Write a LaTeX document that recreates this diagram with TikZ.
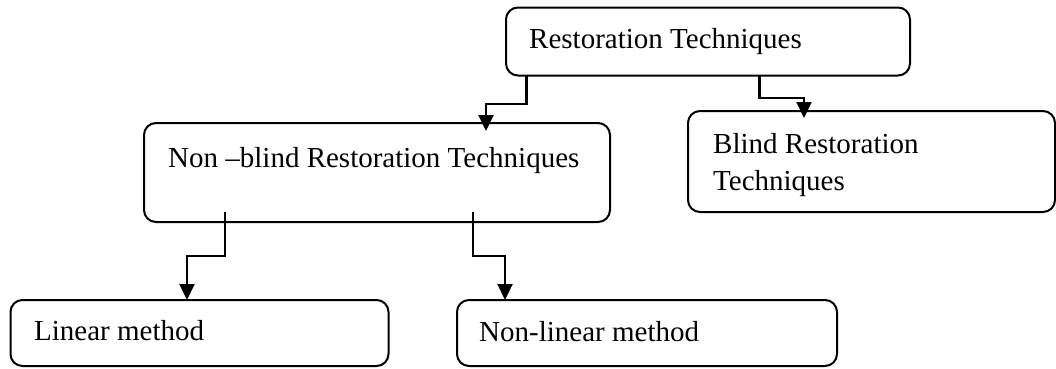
\documentclass[tikz,border=0pt]{standalone}
\usepackage{fontspec}
\setmainfont{Liberation Serif}
\usetikzlibrary{arrows.meta,calc}
\begin{document}
\begin{tikzpicture}[x=1pt,y=-1pt,
  box/.style={draw=black,line width=2pt,rounded corners=12pt,inner sep=0pt,outer sep=0pt},
  lbl/.style={anchor=base west,inner sep=0pt,font=\fontsize{29}{37}\selectfont},
  conn/.style={draw=black,line width=2.1pt,-{Triangle[length=16pt,width=15pt]}}]
\useasboundingbox (0,0) rectangle (1056,368);
% boxes
\node[box,minimum width=404pt,minimum height=68pt] (top) at (708,41.5) {};
\node[box,minimum width=466pt,minimum height=99pt] (nb) at (377,172.5) {};
\node[box,minimum width=367pt,minimum height=101pt] (bl) at (871.5,161.5) {};
\node[box,minimum width=378pt,minimum height=66pt] (lin) at (199.5,333) {};
\node[box,minimum width=380pt,minimum height=66pt] (nl) at (647,333) {};
% texts
\node[lbl] (ttop) at (529,48) {Restoration Techniques};
\node[lbl] (tnb) at (168,167) {Non –blind Restoration Techniques};
\node[lbl] (tbl1) at (713,153) {Blind Restoration};
\node[lbl] (tbl2) at (713,190) {Techniques};
\node[lbl] (tlin) at (34,340) {Linear method};
\node[lbl] (tnl) at (479,341) {Non-linear method};
% connectors
\draw[conn] (top.south -| 526.5,0) |- (486,104) -- ([yshift=-8pt]nb.north -| 486,0);
\draw[conn] (top.south -| 759.5,0) |- (804,98) -- ([yshift=-7pt]bl.north -| 804,0);
\draw[conn] ([yshift=10pt]nb.south -| 225,0) |- (187,256) -- (lin.north -| 187,0);
\draw[conn] ([yshift=10pt]nb.south -| 473,0) |- (505,256) -- (nl.north -| 505,0);
\end{tikzpicture}
\end{document}
